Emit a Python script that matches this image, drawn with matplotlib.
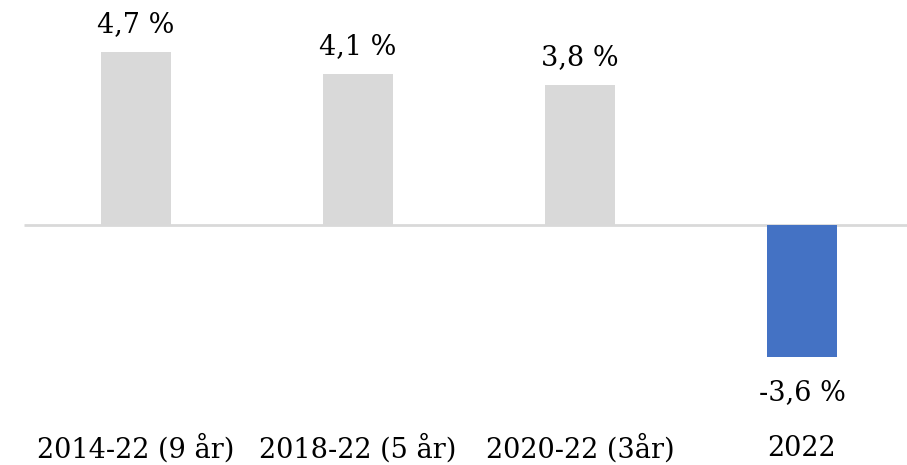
import matplotlib.pyplot as plt
import matplotlib.transforms as mtransforms

categories = ['2014-22 (9 år)', '2018-22 (5 år)', '2020-22 (3år)', '2022']
values = [4.7, 4.1, 3.8, -3.6]
value_labels = ['4,7 %', '4,1 %', '3,8 %', '-3,6 %']

grey = '#d9d9d9'
blue = '#4472c4'
bar_colors = [grey, grey, grey, blue]

plt.rcParams['font.family'] = ['DejaVu Serif']

fig = plt.figure(figsize=(9.07, 4.65), dpi=100)
ax = fig.add_axes([0, 0, 1, 1])

x = list(range(len(categories)))
ax.bar(x, values, width=0.315, color=bar_colors, zorder=2)

# zero line
ax.hlines(0, -0.505, 3.6, color=grey, linewidth=2, zorder=1)

for xi, v, lab in zip(x, values, value_labels):
    off = 28 if v >= 0 else -36
    ax.annotate(lab, (xi, v), xytext=(0, off), textcoords='offset pixels',
                ha='center', va='center', fontsize=19.5, color='black')

trans = mtransforms.blended_transform_factory(ax.transData, ax.transAxes)
for xi, cat in zip(x, categories):
    ax.text(xi, 0.035, cat, transform=trans, ha='center', va='center',
            fontsize=19.5, color='black')

ax.set_xlim(-0.6126, 3.473)
ax.set_ylim(-6.55, 6.12)
ax.axis('off')

fig.savefig('out.png', dpi=100, facecolor='white')
